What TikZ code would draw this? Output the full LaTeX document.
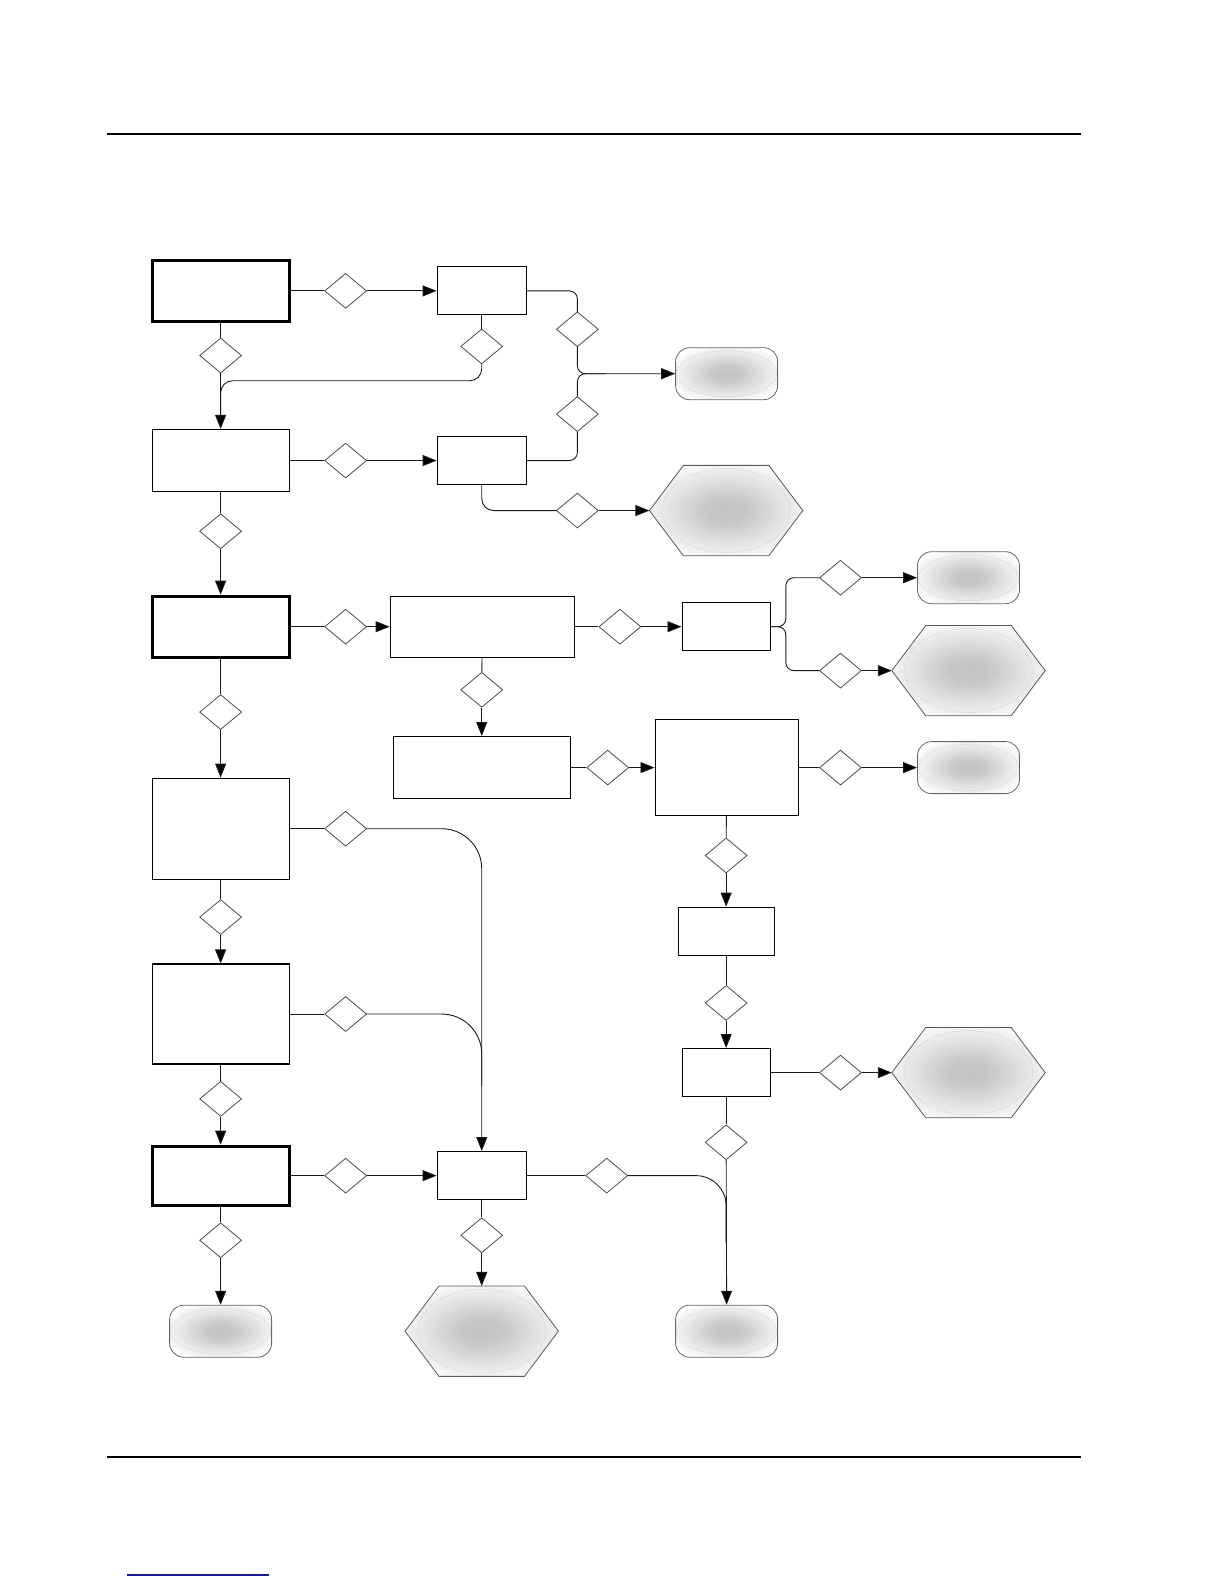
\documentclass[tikz,border=0pt]{standalone}
\usetikzlibrary{arrows.meta,shapes.geometric}
\pgfdeclareradialshading{blob}{\pgfpoint{0bp}{0bp}}{color(0bp)=(black!24); color(7bp)=(black!22); color(30bp)=(white); color(50bp)=(white)}
\definecolor{linkblue}{RGB}{25,25,150}
\tikzset{
  box/.style={draw=black, line width=1.2pt, rectangle, inner sep=0pt, fill=white},
  thickbox/.style={box, line width=3pt},
  dia/.style={diamond, draw=black!70, line width=0.8pt, fill=white, minimum width=42pt, minimum height=35pt, inner sep=0pt},
  term/.style={rectangle, rounded corners=14pt, draw=black!60, line width=0.8pt, shading=blob, minimum width=102pt, minimum height=52pt, inner sep=0pt},
  hexa/.style={rectangle, minimum width=153pt, minimum height=90pt, inner sep=0pt},
  ellline/.style={draw=black!22, dash pattern=on 1.5pt off 1.5pt, line width=0.4pt},
  conn/.style={draw=black!90, line width=0.9pt},
  arr/.style={-{Triangle[length=14pt,width=11pt,fill=black]}},
  rule/.style={line width=2pt, draw=black}
}
\newcommand\myhex[1]{%
  \shade[shading=blob, draw=black!65, line width=0.8pt] (#1.west) -- ([xshift=34pt]#1.north west) -- ([xshift=-34pt]#1.north east) -- (#1.east) -- ([xshift=-34pt]#1.south east) -- ([xshift=34pt]#1.south west) -- cycle;
  \draw[ellline] (#1.center) ellipse [x radius=64pt, y radius=42pt];}
\newcommand\myterm[1]{\draw[ellline] (#1.center) ellipse [x radius=50pt, y radius=23pt];}
\begin{document}
\begin{tikzpicture}
\path[use as bounding box] (0pt,0pt) rectangle (1224pt,-1584pt);
\draw[rule] (107pt,-134.5pt) -- (1081pt,-134.5pt);
\draw[rule] (107pt,-1457pt) -- (1081pt,-1457pt);
\draw[line width=1.5pt, draw=linkblue] (127pt,-1575pt) -- (269pt,-1575pt);
\begin{scope}[x=1.012pt, y=-1.01pt, xshift=-1.5pt]
% left column
\node[thickbox, minimum width=137pt, minimum height=61pt] (A1) at (219.5,288) {};
\node[box, minimum width=137pt, minimum height=62pt] (A2) at (219.5,456) {};
\node[thickbox, minimum width=137pt, minimum height=61pt] (A3) at (219.5,620.5) {};
\node[box, minimum width=137pt, minimum height=101pt] (A4) at (219.5,820.5) {};
\node[box, minimum width=137pt, minimum height=100pt] (A5) at (219.5,1004) {};
\node[thickbox, minimum width=137pt, minimum height=59pt] (A6) at (219.5,1164) {};
\node[term] (T1) at (219.5,1318) {}; \myterm{T1}
% second column
\node[box, minimum width=89pt, minimum height=48pt] (B1) at (477.5,288) {};
\node[box, minimum width=89pt, minimum height=48pt] (B2) at (477.5,456) {};
\node[box, minimum width=89pt, minimum height=48pt] (B3) at (477.5,1164) {};
\node[box, minimum width=184pt, minimum height=61pt] (C1) at (478,620.5) {};
\node[box, minimum width=177pt, minimum height=62pt] (C3) at (477.5,760) {};
\node[hexa] (H4) at (477.5,1318) {}; \myhex{H4}
% third column
\node[box, minimum width=88pt, minimum height=48pt] (C2) at (719,620.5) {};
\node[box, minimum width=143pt, minimum height=96pt] (C4) at (719.5,760) {};
\node[box, minimum width=96pt, minimum height=48pt] (C5) at (719,922) {};
\node[box, minimum width=88pt, minimum height=48pt] (C6) at (719,1062) {};
\node[term] (T2) at (719.5,370) {}; \myterm{T2}
\node[term] (T5) at (719.5,1318) {}; \myterm{T5}
\node[hexa] (H1) at (719,505.5) {}; \myhex{H1}
% right column
\node[term] (T3) at (958.5,572) {}; \myterm{T3}
\node[term] (T4) at (958.5,760) {}; \myterm{T4}
\node[hexa] (H2) at (958.5,664) {}; \myhex{H2}
\node[hexa] (H3) at (958.5,1062) {}; \myhex{H3}
% junction coordinates
\coordinate (j1) at (219.5,415);
\coordinate (j2) at (600,370);
\coordinate (j3) at (477.5,1075);
\coordinate (j4) at (719,1230);
% connectors (drawn before diamonds)
\draw[conn, rounded corners=12pt] (477.5,343) -- (477.5,377) -- (219.5,377) -- (j1);
\draw[conn, rounded corners=8pt] (B1.east) -- (572,288) -- (572,326);
\draw[conn, rounded corners=8pt, arr] (572,326) -- (572,370) -- (T2.west);
\draw[conn, rounded corners=8pt] (B2.east) -- (572,456) -- (572,410);
\draw[conn, rounded corners=8pt] (572,410) -- (572,370) -- (j2);
\draw[conn, rounded corners=12pt] (B2.south) -- (477.5,505.5) -- (572,505.5);
\draw[conn, rounded corners=8pt] (C2.east) -- (778,620.5) -- (778,572) -- (832,572);
\draw[conn, rounded corners=8pt] (C2.east) -- (778,620.5) -- (778,664) -- (832,664);
\draw[conn, rounded corners=40pt, arr] (343,820.5) -- (477.5,820.5) -- (B3.north);
\draw[conn, rounded corners=40pt] (343,1004) -- (477.5,1004) -- (j3);
\draw[conn, rounded corners=30pt] (601,1164) -- (719,1164) -- (j4);
% diamonds
\foreach \n/\x/\y in {d1/343/288, d2/219.5/352, d3/477.5/343, d4/343/456, d5/219.5/526,
  d6/572/326, d7/572/410, d8/572/505.5, d9/343/620.5, d10/614/620.5, d11/832/572,
  d12/832/664, d13/477.5/683, d14/602/760, d15/832/760, d16/719/847, d17/719/993,
  d18/832/1062, d19/719/1131, d20/219.5/705, d21/219.5/908, d22/219.5/1088,
  d23/219.5/1228, d24/343/1164, d25/343/820.5, d26/343/1004, d27/477.5/1223, d28/601/1164}
  \node[dia] (\n) at (\x,\y) {};
% straight connectors
\draw[conn] (A1) -- (d1); \draw[conn,arr] (d1) -- (B1);
\draw[conn] (A1) -- (d2); \draw[conn,arr] (d2) -- (A2);
\draw[conn] (B1) -- (d3);
\draw[conn] (A2) -- (d4); \draw[conn,arr] (d4) -- (B2);
\draw[conn] (A2) -- (d5); \draw[conn,arr] (d5) -- (A3);
\draw[conn,arr] (d8) -- (H1.west);
\draw[conn] (A3) -- (d9); \draw[conn,arr] (d9) -- (C1);
\draw[conn] (C1) -- (d10); \draw[conn,arr] (d10) -- (C2);
\draw[conn,arr] (d11) -- (T3.west);
\draw[conn,arr] (d12) -- (H2.west);
\draw[conn] (C1) -- (d13); \draw[conn,arr] (d13) -- (C3);
\draw[conn] (C3) -- (d14); \draw[conn,arr] (d14) -- (C4);
\draw[conn] (C4) -- (d15); \draw[conn,arr] (d15) -- (T4.west);
\draw[conn] (C4) -- (d16); \draw[conn,arr] (d16) -- (C5);
\draw[conn] (C5) -- (d17); \draw[conn,arr] (d17) -- (C6);
\draw[conn] (C6) -- (d18); \draw[conn,arr] (d18) -- (H3.west);
\draw[conn] (C6) -- (d19); \draw[conn,arr] (d19) -- (T5.north);
\draw[conn] (A3) -- (d20); \draw[conn,arr] (d20) -- (A4);
\draw[conn] (A4) -- (d21); \draw[conn,arr] (d21) -- (A5);
\draw[conn] (A5) -- (d22); \draw[conn,arr] (d22) -- (A6);
\draw[conn] (A6) -- (d23); \draw[conn,arr] (d23) -- (T1.north);
\draw[conn] (A6) -- (d24); \draw[conn,arr] (d24) -- (B3);
\draw[conn] (A4) -- (d25);
\draw[conn] (A5) -- (d26);
\draw[conn] (B3) -- (d27); \draw[conn,arr] (d27) -- (H4.north);
\draw[conn] (B3) -- (d28);
\end{scope}
\end{tikzpicture}
\end{document}
